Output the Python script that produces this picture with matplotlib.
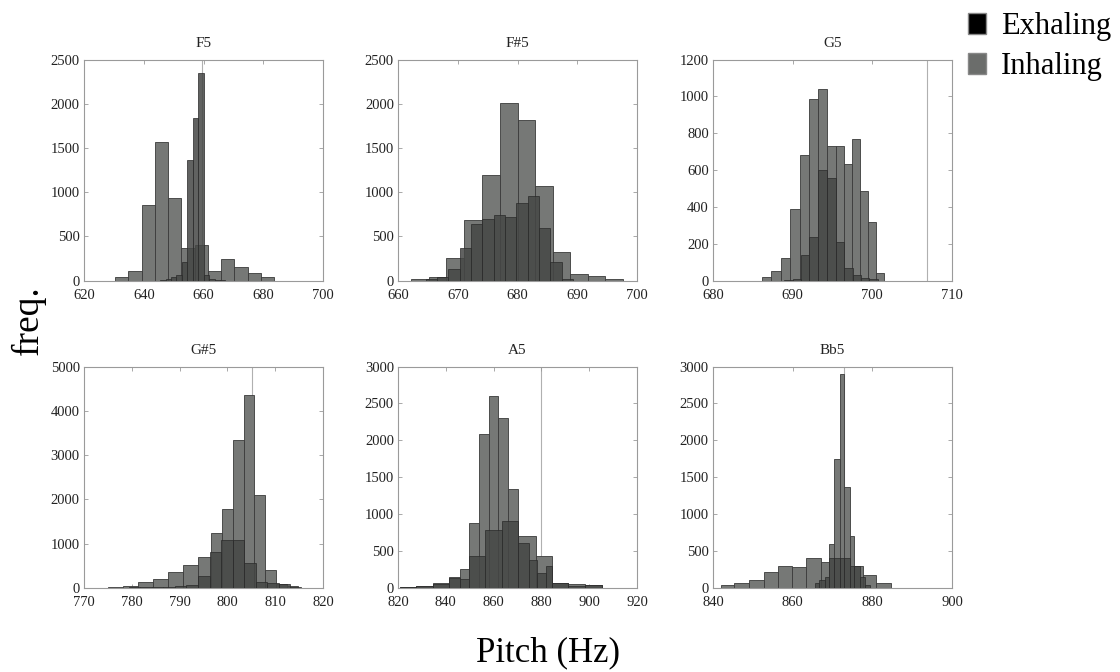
import numpy as np
import matplotlib
matplotlib.use('Agg')
from matplotlib import pyplot as plt
from matplotlib.patches import Patch

plt.rcParams['font.family'] = ['Liberation Serif', 'DejaVu Serif']

# note names and axis ranges for every panel
notes = ['F5', 'F#5', 'G5', 'G#5', 'A5', 'Bb5']
xlims = [(620, 700), (660, 700), (680, 710), (770, 820), (820, 920), (840, 900)]
xsteps = [20, 10, 10, 10, 20, 20]
ylims = [2500, 2500, 1200, 5000, 3000, 3000]
ysteps = [500, 500, 200, 1000, 500, 500]
ref_lines = [659.4, None, 706.8, 805.1, 880.0, 873.0]   # thin grey marker line (Hz)

# histogram bin edges (Hz) and counts
f5_inh_edges = [630.4, 634.8, 639.3, 643.7, 648.1, 652.6, 657.0, 661.4, 665.9, 670.3, 674.8, 679.2, 683.6]
f5_inh_counts = [40, 110, 860, 1570, 930, 375, 400, 110, 240, 160, 85, 40]
f5_exh_edges = [645.5, 647.3, 649.1, 650.9, 652.8, 654.6, 656.4, 658.2, 660.0, 661.9, 663.7, 665.5, 667.3]
f5_exh_counts = [10, 15, 40, 60, 210, 1370, 1840, 2350, 60, 20, 10, 5]

fs5_inh_edges = [662.2, 665.2, 668.1, 671.1, 674.0, 677.0, 680.0, 682.9, 685.9, 688.8, 691.8, 694.7, 697.7]
fs5_inh_counts = [20, 40, 260, 690, 1190, 2010, 1820, 1070, 320, 80, 50, 20]
fs5_exh_edges = [664.6, 666.5, 668.4, 670.3, 672.2, 674.1, 676.0, 677.9, 679.8, 681.7, 683.6, 685.5, 687.4, 689.3]
fs5_exh_counts = [20, 40, 130, 370, 645, 700, 740, 725, 880, 955, 595, 215, 20]

g5_inh_edges = [686.2, 687.3, 688.5, 689.7, 690.9, 692.0, 693.2, 694.3, 695.4, 696.4, 697.4, 698.4, 699.4, 700.5, 701.5]
g5_inh_counts = [20, 55, 125, 390, 680, 985, 1040, 730, 730, 635, 770, 485, 320, 40]
g5_exh_edges = [688.9, 690.0, 691.1, 692.0, 693.2, 694.3, 695.5, 696.5, 697.6, 698.6, 699.6, 700.7]
g5_exh_counts = [5, 10, 140, 235, 600, 555, 210, 70, 30, 15, 10]

gs5_inh_edges = [775.0, 778.2, 781.3, 784.4, 787.6, 790.7, 793.8, 796.6, 798.9, 801.2, 803.4, 805.6, 807.9, 810.2, 812.4, 814.8]
gs5_inh_counts = [15, 30, 120, 190, 350, 510, 700, 1240, 1790, 3340, 4360, 2100, 410, 80, 30]
gs5_exh_edges = [779.4, 781.8, 784.2, 786.6, 789.0, 791.4, 793.8, 796.3, 798.7, 801.1, 803.5, 805.9, 808.3, 810.7, 813.1, 815.5]
gs5_exh_counts = [10, 10, 15, 20, 30, 60, 270, 800, 1090, 1090, 570, 130, 110, 80, 20]

a5_inh_edges = [821.0, 827.7, 834.7, 841.3, 845.9, 849.7, 853.8, 858.0, 862.0, 866.2, 870.3, 877.6, 884.3, 891.3, 898.3, 905.3]
a5_inh_counts = [15, 30, 60, 140, 250, 880, 2080, 2600, 2300, 1340, 700, 430, 70, 45, 40]
a5_exh_edges = [821.0, 827.7, 834.7, 841.3, 845.9, 849.7, 856.4, 863.4, 870.3, 874.9, 878.0, 881.8, 884.3, 891.3, 898.3, 905.3]
a5_exh_counts = [10, 20, 50, 130, 120, 430, 780, 900, 610, 370, 200, 300, 60, 30, 40]

bb5_inh_edges = [841.9, 845.3, 849.1, 852.7, 856.2, 859.8, 863.4, 867.0, 869.2, 870.5, 871.8, 873.0, 874.3, 875.5, 877.6, 881.0, 884.6]
bb5_inh_counts = [40, 65, 100, 210, 300, 280, 410, 350, 600, 1750, 2900, 1370, 700, 300, 170, 70]
bb5_exh_edges = [865.5, 866.7, 868.0, 869.2, 870.5, 871.8, 873.0, 874.3, 875.5, 876.8, 878.1, 879.3]
bb5_exh_counts = [60, 110, 150, 400, 410, 410, 410, 300, 290, 150, 40]

inh_edges = [f5_inh_edges, fs5_inh_edges, g5_inh_edges, gs5_inh_edges, a5_inh_edges, bb5_inh_edges]
inh_counts = [f5_inh_counts, fs5_inh_counts, g5_inh_counts, gs5_inh_counts, a5_inh_counts, bb5_inh_counts]
exh_edges = [f5_exh_edges, fs5_exh_edges, g5_exh_edges, gs5_exh_edges, a5_exh_edges, bb5_exh_edges]
exh_counts = [f5_exh_counts, fs5_exh_counts, g5_exh_counts, gs5_exh_counts, a5_exh_counts, bb5_exh_counts]

inh_color = '#767876'
exh_color = '#454745'

fig = plt.figure(figsize=(11.2, 6.72), dpi=100)

# axes boxes in figure fractions (left, bottom, width, height)
lefts = [0.075, 0.3554, 0.6366]
bottoms = [0.5823, 0.1254]
w, h = 0.2134, 0.329

for i, note in enumerate(notes):
    ax = fig.add_axes([lefts[i % 3], bottoms[i // 3], w, h])

    e = np.array(inh_edges[i])
    ax.bar(e[:-1], inh_counts[i], width=np.diff(e), align='edge',
           color=inh_color, edgecolor='#3a3a3a', linewidth=0.6, zorder=2)
    e = np.array(exh_edges[i])
    ax.bar(e[:-1], exh_counts[i], width=np.diff(e), align='edge',
           color=exh_color, alpha=0.85, edgecolor='#2a2a2a', linewidth=0.6, zorder=3)

    if ref_lines[i] is not None:
        ax.axvline(ref_lines[i], color='#b0b0b0', linewidth=0.8, zorder=1)

    x0, x1 = xlims[i]
    ax.set_xlim(x0, x1)
    ax.set_ylim(0, ylims[i])
    ax.set_xticks(np.arange(x0, x1 + 1, xsteps[i]))
    ax.set_yticks(np.arange(0, ylims[i] + 1, ysteps[i]))
    ax.tick_params(direction='in', length=3, width=0.6, top=True, right=True,
                   labelsize=10.5, colors='#9a9a9a', labelcolor='#222222')
    ax.tick_params(axis='x', pad=6)
    ax.tick_params(axis='y', pad=3)
    for s in ax.spines.values():
        s.set_color('#9a9a9a')
        s.set_linewidth(0.8)
    ax.set_title(note, fontsize=11, pad=9, color='#222222')

fig.text(0.025, 0.524, 'freq.', rotation=90, fontsize=27, ha='center', va='center')
fig.text(0.489, 0.028, 'Pitch (Hz)', fontsize=25, ha='center', va='center')

handles = [Patch(facecolor='black', edgecolor='#888888', label='Exhaling'),
           Patch(facecolor='#6b6d6b', edgecolor='#888888', label='Inhaling')]
fig.legend(handles=handles, loc='upper left', bbox_to_anchor=(0.853, 1.0),
           frameon=False, fontsize=22, handlelength=0.6, handleheight=0.7,
           handletextpad=0.5, labelspacing=0.35, borderaxespad=0)

fig.savefig('out.png', dpi=100)
